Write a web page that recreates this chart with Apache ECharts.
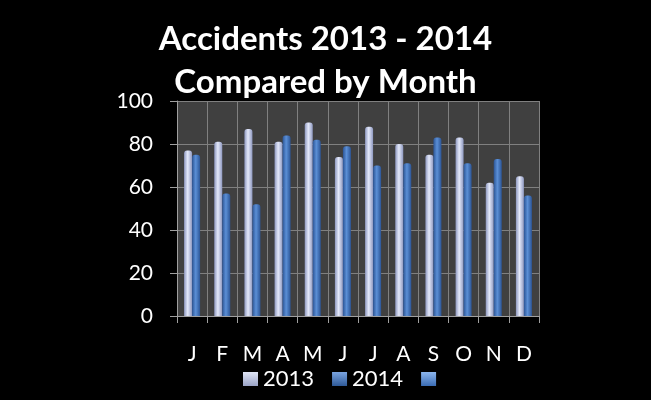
<!DOCTYPE html>
<html><head><meta charset="utf-8">
<script src="https://cdn.jsdelivr.net/npm/echarts@6/dist/echarts.min.js"></script>
<style>html,body{margin:0;padding:0;background:#000;}#c{width:651px;height:400px;}</style>
</head><body><div id="c"></div>
<script>
const titleLines = ['Accidents 2013 - 2014', 'Compared by Month'];
const months = ['J','F','M','A','M','J','J','A','S','O','N','D'];
const values2013 = [77, 81, 87, 81, 90, 74, 88, 80, 75, 83, 62, 65];
const values2014 = [75, 57, 52, 84, 82, 79, 70, 71, 83, 71, 73, 56];
const seriesNames = ['2013', '2014', ' '];
const yTicks = [0, 20, 40, 60, 80, 100];

function grad(edge, mid) {
  return new echarts.graphic.LinearGradient(0, 0, 1, 0, [
    {offset: 0, color: edge}, {offset: 0.45, color: mid}, {offset: 1, color: edge}
  ]);
}
const c2013 = grad('#8e98c0', '#e4e9fa');
const c2014 = grad('#2c5596', '#5b8fd6');
function iconGrad(a, b) {
  return new echarts.graphic.LinearGradient(0, 0, 0, 1, [
    {offset: 0, color: a}, {offset: 1, color: b}
  ]);
}
const legendColors = [iconGrad('#dfe4f5', '#9aa3c6'), iconGrad('#7aa4e0', '#2f5a98'), iconGrad('#8cb6ee', '#3a6cb4')];

const chart = echarts.init(document.getElementById('c'));
chart.setOption({
  backgroundColor: '#000',
  animation: false,
  title: {
    text: titleLines.join('\n'),
    left: 'center', top: 13,
    textStyle: {color: '#fff', fontSize: 33, fontWeight: 'bold', fontFamily: 'Lato', lineHeight: 43}
  },
  legend: {
    bottom: 5, left: 238,
    icon: 'rect',
    itemWidth: 15, itemHeight: 14, itemGap: 18,
    textStyle: {color: '#fff', fontSize: 22, fontFamily: 'Lato'},
    data: seriesNames.map((n, i) => ({name: n, itemStyle: {color: legendColors[i]}}))
  },
  grid: {left: 177, right: 112, top: 101, bottom: 84, show: true, backgroundColor: '#404040', borderWidth: 0},
  xAxis: {
    type: 'category', data: months,
    axisLine: {lineStyle: {color: '#a0a0a0'}},
    axisTick: {show: true, length: 7, lineStyle: {color: '#a0a0a0'}},
    axisLabel: {color: '#fff', fontSize: 21, fontFamily: 'Lato', margin: 28},
    splitLine: {show: true, lineStyle: {color: '#808080'}}
  },
  yAxis: {
    type: 'value', min: yTicks[0], max: yTicks[yTicks.length-1], interval: 20,
    axisLine: {show: true, lineStyle: {color: '#a0a0a0'}},
    axisTick: {show: true, length: 7, lineStyle: {color: '#a0a0a0'}},
    axisLabel: {color: '#fff', fontSize: 21, fontFamily: 'Lato', margin: 24},
    splitLine: {show: true, lineStyle: {color: '#808080'}}
  },
  series: [
    {name: seriesNames[0], type: 'bar', data: values2013, barWidth: 8, barGap: '0%',
     itemStyle: {color: c2013, borderRadius: [3,3,0,0]}},
    {name: seriesNames[1], type: 'bar', data: values2014, barWidth: 8,
     itemStyle: {color: c2014, borderRadius: [3,3,0,0]}},
    {name: seriesNames[2], type: 'bar', data: [], itemStyle: {color: c2014}}
  ]
});
</script></body></html>
